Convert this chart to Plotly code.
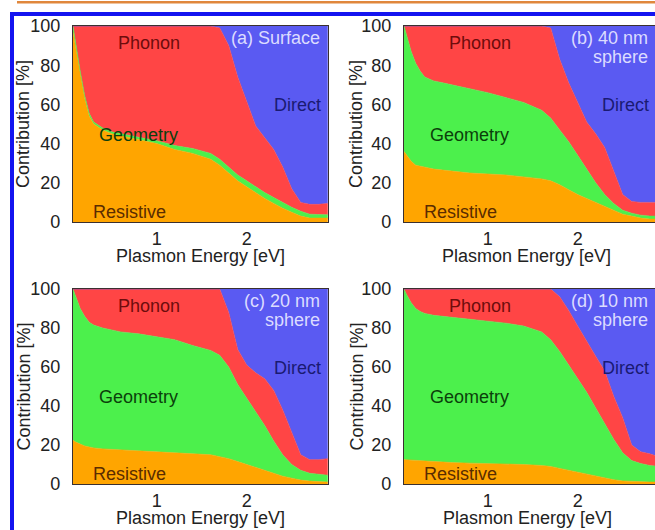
import plotly.graph_objects as go

# Plasmon energy grid [eV]
energy = [0.07, 0.1, 0.15, 0.2, 0.25, 0.3, 0.4, 0.5, 0.6, 0.8, 1.0, 1.2, 1.4, 1.6,
          1.7, 1.8, 1.9, 2.0, 2.1, 2.2, 2.3, 2.4, 2.5, 2.6, 2.7, 2.8, 2.9]

# (a) Surface: contributions [%]
surface_resistive = [97, 89, 75, 63, 54, 50, 47, 45, 44, 42, 40, 37, 35, 32,
                     29, 25, 21, 18, 15, 12, 9.5, 7, 5, 3, 2, 2, 2]
surface_geometry = [3, 2, 2, 1.5, 1.5, 1, 1, 1, 1, 1.2, 1.5, 2, 2.5, 3,
                    3, 3, 3, 3, 3, 3, 3, 3, 2.5, 2.5, 2, 1.8, 1.7]
surface_phonon = [0, 9, 23, 35.5, 44.5, 49, 52, 54, 55, 56.8, 58.5, 61, 62.5, 65,
                  67, 62, 50, 40, 31, 28, 24.5, 18, 9.5, 4.5, 5, 5.2, 5.8]
surface_direct = [0, 0, 0, 0, 0, 0, 0, 0, 0, 0, 0, 0, 0, 0,
                  1, 10, 26, 39, 51, 57, 63, 72, 83, 90, 91, 91, 90.5]

# (b) 40 nm sphere
s40_resistive = [36, 34, 31, 29, 28.5, 28, 27, 26.5, 26, 25, 24.5, 24, 23, 22,
                 21, 19, 16.5, 14, 12, 10, 8, 6, 4, 3, 2, 1.5, 1.5]
s40_geometry = [64, 61, 56, 52, 48.5, 46, 45, 44.5, 44, 43, 41.5, 39.5, 38, 35,
                32, 28, 24.5, 20, 15, 10, 6, 3.5, 2, 1.5, 1.5, 1.5, 1.5]
s40_phonon = [0, 5, 13, 19, 23, 26, 28, 29, 30, 32, 34, 36.5, 39, 43,
              46, 36, 30, 27, 24, 25, 24, 16.5, 8, 6, 6.5, 7, 7]
s40_direct = [0, 0, 0, 0, 0, 0, 0, 0, 0, 0, 0, 0, 0, 0,
              1, 17, 29, 39, 49, 55, 62, 74, 86, 89.5, 90, 90, 90]

# (c) 20 nm sphere
s20_resistive = [22.5, 21.5, 20.5, 19.5, 19, 18.5, 18, 17.7, 17.5, 17, 16.5, 16, 15.5, 15,
                 14, 13, 11.5, 10, 8.5, 7, 5.5, 4, 3, 2, 1.5, 1.2, 1]
s20_geometry = [77.5, 74.5, 69.5, 66.5, 64, 63, 62, 61.3, 60.5, 60, 59, 58, 55.5, 53.5,
                52, 47, 39.5, 34, 28.5, 23, 16.5, 11, 7, 5, 4, 3.8, 3.5]
s20_phonon = [0, 4, 10, 14, 17, 18.5, 20, 21, 22, 23, 24.5, 26, 29, 31.5,
              34, 28, 18, 17, 20, 24, 26, 23, 16, 8, 7, 7.5, 8.5]
s20_direct = [0, 0, 0, 0, 0, 0, 0, 0, 0, 0, 0, 0, 0, 0,
              0, 12, 31, 39, 43, 46, 52, 62, 74, 85, 87.5, 87.5, 87]

# (d) 10 nm sphere
s10_resistive = [12.5, 12.4, 12.2, 12, 11.9, 11.8, 11.5, 11.2, 11, 10.7, 10.5, 10.2, 10, 9.5,
                 9, 8, 7, 6, 5, 4, 3, 2.2, 1.6, 1.3, 1.1, 1, 1]
s10_geometry = [87.5, 84.6, 80.8, 78, 76.6, 75.7, 75, 74.8, 74.5, 73.8, 73, 72.3, 71, 68.5,
                65, 60, 54, 48, 42, 35, 28, 20.8, 14.4, 10.7, 9.4, 8.5, 8]
s10_phonon = [0, 3, 7, 10, 11.5, 12.5, 13.5, 14, 14.5, 15.5, 16.5, 17.5, 19, 22,
              26, 28, 28, 27, 26, 26.5, 27, 22, 18, 8, 6, 6, 5]
s10_direct = [0, 0, 0, 0, 0, 0, 0, 0, 0, 0, 0, 0, 0, 0,
              0, 4, 11, 19, 27, 34.5, 42, 55, 66, 80, 83.5, 84.5, 86]

components = ["Resistive", "Geometry", "Phonon", "Direct"]
fill_colors = {"Resistive": "#ffa500", "Geometry": "#4cf04c",
               "Phonon": "#ff4545", "Direct": "#5a5af2"}
text_colors = {"Resistive": "#5a2c00", "Geometry": "#0b3f0b",
               "Phonon": "#6e0c0c", "Direct": "#1a1a72"}
FONT = "Liberation Sans, Arial, Helvetica, sans-serif"

W, H = 655, 530


def px_x(p):
    return p / W


def px_y(p):
    return 1 - p / H


panels = [
    dict(ax="", series=[surface_resistive, surface_geometry, surface_phonon, surface_direct],
         left=73, right=328, top=26, bottom=222, emax=2.903,
         title=["(a) Surface"], title_right=2.837, xtitle_x=200, ytitle_x=23),
    dict(ax="2", series=[s40_resistive, s40_geometry, s40_phonon, s40_direct],
         left=404, right=655, top=26, bottom=222, emax=2.859,
         title=["(b) 40 nm", "sphere"], title_right=2.803, xtitle_x=526, ytitle_x=356),
    dict(ax="3", series=[s20_resistive, s20_geometry, s20_phonon, s20_direct],
         left=73, right=328, top=289, bottom=484, emax=2.903,
         title=["(c) 20 nm", "sphere"], title_right=2.837, xtitle_x=200, ytitle_x=23),
    dict(ax="4", series=[s10_resistive, s10_geometry, s10_phonon, s10_direct],
         left=404, right=655, top=289, bottom=484, emax=2.859,
         title=["(d) 10 nm", "sphere"], title_right=2.803, xtitle_x=527, ytitle_x=356),
]

# Positions of the in-panel component labels (energy, percent)
label_pos = {"Phonon": (0.91, 91.5), "Geometry": (0.80, 44.5), "Resistive": (0.70, 5.0)}
direct_pos = 59.5

fig = go.Figure()
annotations = []

for p in panels:
    xa, ya = "x" + p["ax"], "y" + p["ax"]
    for name, vals in zip(components, p["series"]):
        fig.add_trace(go.Scatter(
            x=energy, y=vals, name=name, mode="lines",
            stackgroup="g" + (p["ax"] or "1"),
            line=dict(width=0.6, color=fill_colors[name]),
            fillcolor=fill_colors[name], showlegend=False,
            xaxis=xa, yaxis=ya))

    axis_common = dict(showgrid=False, zeroline=False, showline=True, mirror=True,
                       linecolor="#3a3030", linewidth=1.3, ticks="", automargin=False,
                       tickfont=dict(family=FONT, size=18, color="#222222"))
    fig.update_layout(**{
        ("xaxis" + p["ax"]): dict(domain=[px_x(p["left"]), px_x(p["right"])],
                                  range=[0.07, p["emax"]], anchor=ya,
                                  tickvals=[1, 2], ticklabelstandoff=0, **axis_common),
        ("yaxis" + p["ax"]): dict(domain=[px_y(p["bottom"]), px_y(p["top"])],
                                  range=[0, 100], anchor=xa,
                                  tickvals=[0, 20, 40, 60, 80, 100],
                                  ticklabelstandoff=8, **axis_common),
    })

    for name, (ex, v) in label_pos.items():
        annotations.append(dict(x=ex, y=v, xref=xa, yref=ya, text=name, showarrow=False,
                                xanchor="center", yanchor="middle",
                                font=dict(family=FONT, size=18, color=text_colors[name])))
    annotations.append(dict(x=p["title_right"] + 0.01, y=direct_pos, xref=xa, yref=ya,
                            text="Direct", showarrow=False, xanchor="right",
                            yanchor="middle",
                            font=dict(family=FONT, size=18, color=text_colors["Direct"])))
    h = p["bottom"] - p["top"]
    for i, line in enumerate(p["title"]):
        ypix = p["top"] + 12 + 19 * i
        annotations.append(dict(x=p["title_right"], y=100 * (p["bottom"] - ypix) / h,
                                xref=xa, yref=ya, text=line, showarrow=False,
                                xanchor="right", yanchor="middle",
                                font=dict(family=FONT, size=18, color="#dcdcff")))

    # axis titles
    annotations.append(dict(x=px_x(p["xtitle_x"]), y=px_y(p["bottom"] + 34),
                            xref="paper", yref="paper", text="Plasmon Energy [eV]",
                            showarrow=False, xanchor="center", yanchor="middle",
                            font=dict(family=FONT, size=18, color="#222222")))
    annotations.append(dict(x=px_x(p["ytitle_x"]), y=px_y((p["top"] + p["bottom"]) / 2),
                            xref="paper", yref="paper", text="Contribution [%]",
                            showarrow=False, textangle=-90,
                            xanchor="center", yanchor="middle",
                            font=dict(family=FONT, size=18, color="#222222")))

fig.update_layout(
    width=W, height=H,
    autosize=False,
    margin=dict(l=0, r=0, t=0, b=0, pad=0, autoexpand=False),
    paper_bgcolor="white", plot_bgcolor="white",
    annotations=annotations,
    shapes=[
        # thin rule across the top of the page
        dict(type="line", xref="paper", yref="paper",
             x0=px_x(17), x1=1.02, y0=px_y(2.3), y1=px_y(2.3),
             line=dict(color="#e0873c", width=2.5)),
        # blue frame around the figure
        dict(type="rect", xref="paper", yref="paper",
             x0=px_x(12), x1=1.05, y0=-0.05, y1=px_y(14),
             line=dict(color="#1414f0", width=4)),
    ],
)

fig.write_html("out.html")
